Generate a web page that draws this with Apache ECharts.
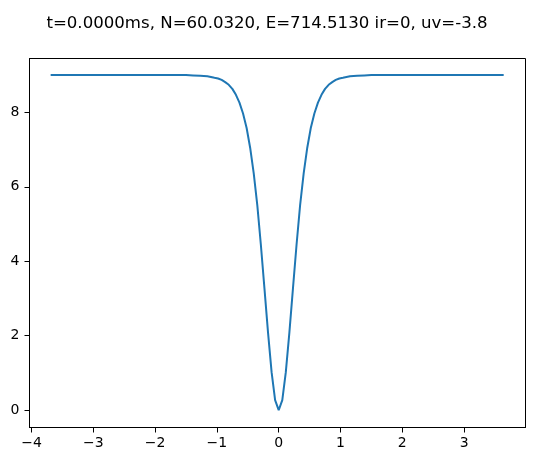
<!DOCTYPE html>
<html>
<head>
<meta charset="utf-8">
<script src="https://cdn.jsdelivr.net/npm/echarts@6/dist/echarts.min.js"></script>
<style>
  html, body { margin: 0; padding: 0; background: #fff; }
  #chart { width: 534px; height: 461px; }
</style>
</head>
<body>
<div id="chart"></div>
<script>
// 标题
const titleText = 't=0.0000ms, N=60.0320, E=714.5130 ir=0, uv=-3.8'
// x 坐标
const xValues = [-3.69, -2.8, -2.2, -1.731, -1.5, -1.385, -1.269, -1.154, -1.096, -1.039,
  -0.981, -0.923, -0.866, -0.808, -0.75, -0.692, -0.635, -0.577, -0.519, -0.462,
  -0.404, -0.346, -0.289, -0.231, -0.173, -0.115, -0.058, 0,
  0.058, 0.115, 0.173, 0.231, 0.289, 0.346, 0.404, 0.462, 0.519, 0.577,
  0.635, 0.692, 0.75, 0.808, 0.866, 0.923, 0.981, 1.039, 1.096, 1.154,
  1.269, 1.385, 1.5, 1.731, 2.2, 2.8, 3.64]
// y 值
const yValues = [9.0, 9.0, 9.0, 9.0, 9.0, 8.99, 8.98, 8.97, 8.95, 8.93,
  8.91, 8.87, 8.81, 8.74, 8.63, 8.47, 8.26, 7.97, 7.58, 7.05,
  6.36, 5.5, 4.45, 3.28, 2.09, 1.02, 0.27, 0,
  0.27, 1.02, 2.09, 3.28, 4.45, 5.5, 6.36, 7.05, 7.58, 7.97,
  8.26, 8.47, 8.63, 8.74, 8.81, 8.87, 8.91, 8.93, 8.95, 8.97,
  8.98, 8.99, 9.0, 9.0, 9.0, 9.0, 9.0]
// 刻度
const xTicks = [-4, -3, -2, -1, 0, 1, 2, 3]
const yTicks = [0, 2, 4, 6, 8]

const font = 'DejaVu Sans'
const minus = v => String(v).replace('-', '\u2212')

const chart = echarts.init(document.getElementById('chart'))
chart.setOption({
  animation: false,
  title: {
    text: titleText,
    left: 'center',
    top: 10,
    textStyle: { fontFamily: font, fontSize: 16.6, fontWeight: 'normal', color: '#000' }
  },
  grid: {
    left: 29.5,
    right: 8.5,
    top: 58.5,
    bottom: 33.5,
    show: true,
    borderColor: '#000',
    borderWidth: 1
  },
  xAxis: {
    type: 'value',
    min: -4.032,
    max: 3.993,
    splitLine: { show: false },
    axisLine: { show: true, onZero: false, lineStyle: { color: '#000', width: 1 } },
    axisTick: { show: true, customValues: xTicks, length: 5, lineStyle: { color: '#000' } },
    axisLabel: {
      customValues: xTicks,
      margin: 9,
      fontFamily: font,
      fontSize: 14,
      color: '#000',
      formatter: minus
    }
  },
  yAxis: {
    type: 'value',
    min: -0.465,
    max: 9.446,
    splitLine: { show: false },
    axisLine: { show: true, onZero: false, lineStyle: { color: '#000', width: 1 } },
    axisTick: { show: true, customValues: yTicks, length: 5, lineStyle: { color: '#000' } },
    axisLabel: {
      customValues: yTicks,
      margin: 10,
      fontFamily: font,
      fontSize: 14,
      color: '#000'
    }
  },
  series: [
    {
      type: 'line',
      data: xValues.map((x, i) => [x, yValues[i]]),
      showSymbol: false,
      lineStyle: { color: '#1f77b4', width: 2 },
      itemStyle: { color: '#1f77b4' }
    }
  ]
})
</script>
</body>
</html>
